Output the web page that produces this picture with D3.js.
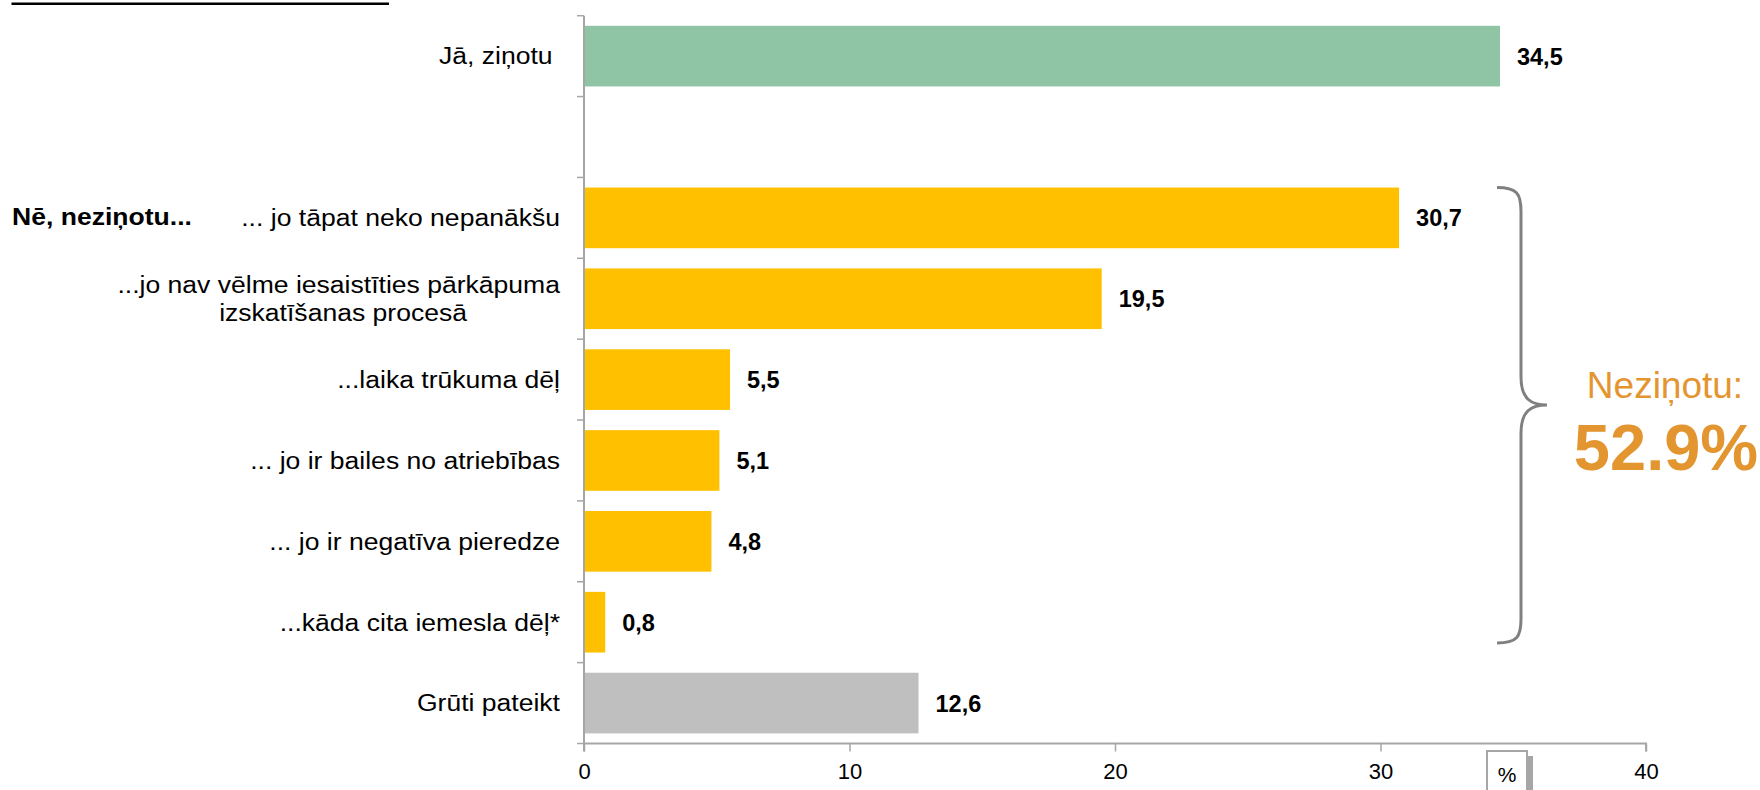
<!DOCTYPE html>
<html>
<head>
<meta charset="utf-8">
<script src="https://cdn.jsdelivr.net/npm/d3@7"></script>
<style>
  html, body { margin: 0; padding: 0; background: #fff; }
  svg { display: block; font-family: "Liberation Sans", Arial, sans-serif; }
</style>
</head>
<body>
<svg id="chart" width="1760" height="790"></svg>
<script>
// ---- data ----
const categories = [
  "Jā, ziņotu\u00A0",
  "",
  "... jo tāpat neko nepanākšu",
  "...jo nav vēlme iesaistīties pārkāpuma|izskatīšanas procesā",
  "...laika trūkuma dēļ",
  "... jo ir bailes no atriebības",
  "... jo ir negatīva pieredze",
  "...kāda cita iemesla dēļ*",
  "Grūti pateikt"
];
const values = [34.5, null, 30.7, 19.5, 5.5, 5.1, 4.8, 0.8, 12.6];
const valueLabels = ["34,5", "", "30,7", "19,5", "5,5", "5,1", "4,8", "0,8", "12,6"];
const groups = ["yes", "gap", "no", "no", "no", "no", "no", "no", "unsure"];
const groupColors = { yes: "#8FC4A4", no: "#FFC000", unsure: "#BFBFBF" };
const xTicks = [0, 10, 20, 30, 40];
const xDomain = [0, 40];
const groupLabel = "Nē, neziņotu...";
const braceLabel = "Neziņotu:";
const braceValue = "52.9%";
const unitLabel = "%";

// ---- layout ----
const svg = d3.select("#chart");
const plot = { left: 584, right: 1646, top: 15.7, bottom: 743.5 };
const labelX = 560;
const textStretch = 1.13;
const orange = "#E39530";
const axisColor = "#A6A6A6";

const x = d3.scaleLinear().domain(xDomain).range([plot.left, plot.right]);
const idx = d3.range(categories.length);
const y = d3.scaleBand().domain(idx).range([plot.top, plot.bottom])
  .paddingInner(0.25).paddingOuter(0.125);
const step = y.step();
const pad = step * 0.25 / 2;

// top-left underline (cut off title)
svg.append("line").attr("x1", 11.5).attr("x2", 389).attr("y1", 3.8).attr("y2", 3.8)
  .attr("stroke", "#000").attr("stroke-width", 2.6);

// bars
const data = idx.filter(i => values[i] !== null);
svg.append("g").selectAll("rect").data(data).join("rect")
  .attr("x", x(0))
  .attr("y", i => y(i))
  .attr("width", i => x(values[i]) - x(0))
  .attr("height", y.bandwidth())
  .attr("fill", i => groupColors[groups[i]]);

// value labels
svg.append("g").selectAll("text").data(data).join("text")
  .attr("x", i => x(values[i]) + 17)
  .attr("y", i => y(i) + y.bandwidth() / 2 + 8.5)
  .attr("font-size", 23.5).attr("font-weight", "bold").attr("fill", "#000")
  .text(i => valueLabels[i]);

// y axis line + ticks at band boundaries
const boundaries = idx.map(i => y(i) - pad).concat([plot.bottom]);
svg.append("line").attr("x1", plot.left).attr("x2", plot.left)
  .attr("y1", plot.top).attr("y2", plot.bottom)
  .attr("stroke", axisColor).attr("stroke-width", 2);
svg.append("g").selectAll("line").data(boundaries).join("line")
  .attr("x1", plot.left - 7).attr("x2", plot.left)
  .attr("y1", d => d).attr("y2", d => d)
  .attr("stroke", axisColor).attr("stroke-width", 1.5);

// x axis
const xAxis = d3.axisBottom(x).tickValues(xTicks).tickSize(8).tickPadding(12)
  .tickFormat(d3.format("d"));
const gx = svg.append("g").attr("transform", `translate(0,${plot.bottom})`).call(xAxis);
gx.select(".domain").attr("stroke", axisColor).attr("stroke-width", 2)
  .attr("d", `M${plot.left},8V0H${plot.right}V8`);
gx.selectAll(".tick line").attr("stroke", axisColor).attr("stroke-width", 1.5);
gx.selectAll(".tick text").attr("font-size", 22).attr("fill", "#000")
  .attr("font-family", "Liberation Sans, Arial, sans-serif");

// category labels (stretched horizontally like the original)
const catG = svg.append("g");
idx.forEach(i => {
  if (!categories[i]) return;
  const lines = categories[i].split("|");
  const cy = y(i) + y.bandwidth() / 2;
  const lh = 28;
  lines.forEach((ln, k) => {
    const by = cy + 8.3 + (k - (lines.length - 1) / 2) * lh;
    const shift = (k === 1) ? 93 : 0;
    catG.append("text")
      .attr("transform", `translate(${labelX - shift},${by}) scale(${textStretch},1)`)
      .attr("text-anchor", "end")
      .attr("font-size", 23.5).attr("fill", "#000")
      .text(ln);
  });
});

// group label
const firstNo = groups.indexOf("no");
svg.append("text")
  .attr("transform", `translate(12,${y(firstNo) + y.bandwidth() / 2 + 7}) scale(${textStretch},1)`)
  .attr("font-size", 23.5).attr("font-weight", "bold").attr("fill", "#000")
  .text(groupLabel);

// brace
const bTop = y(firstNo), bBot = 643, bMid = 405;
const bx0 = 1497, bx1 = 1521, bx2 = 1547, r = 24;
const bp = d3.path();
bp.moveTo(bx0, bTop);
bp.bezierCurveTo(bx1 - 4, bTop, bx1, bTop + 6, bx1, bTop + r);
bp.lineTo(bx1, bMid - r - 4);
bp.bezierCurveTo(bx1, bMid - 6, bx1 + 10, bMid, bx2, bMid);
bp.bezierCurveTo(bx1 + 10, bMid, bx1, bMid + 6, bx1, bMid + r + 4);
bp.lineTo(bx1, bBot - r);
bp.bezierCurveTo(bx1, bBot - 6, bx1 - 4, bBot, bx0, bBot);
svg.append("path").attr("d", bp.toString()).attr("fill", "none")
  .attr("stroke", "#808080").attr("stroke-width", 3);

svg.append("text").attr("x", 1665).attr("y", 398).attr("text-anchor", "middle")
  .attr("font-size", 37).attr("fill", orange).text(braceLabel);
svg.append("text").attr("x", 1666).attr("y", 470).attr("text-anchor", "middle")
  .attr("font-size", 65).attr("font-weight", "bold").attr("fill", orange).text(braceValue);

// unit box
svg.append("rect").attr("x", 1493).attr("y", 756).attr("width", 40).attr("height", 50)
  .attr("fill", "#A6A6A6");
svg.append("rect").attr("x", 1487).attr("y", 751).attr("width", 40).attr("height", 50)
  .attr("fill", "#fff").attr("stroke", "#A6A6A6").attr("stroke-width", 2);
svg.append("text").attr("x", 1507).attr("y", 782).attr("text-anchor", "middle")
  .attr("font-size", 21).attr("fill", "#000").text(unitLabel);
</script>
</body>
</html>
